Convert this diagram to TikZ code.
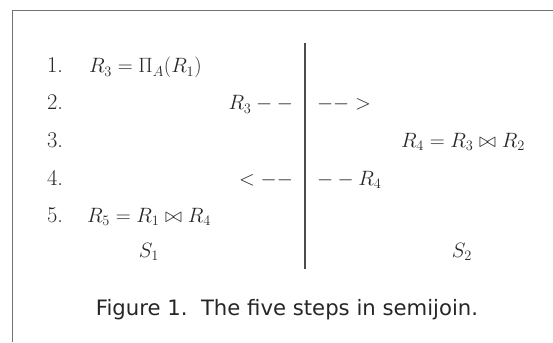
\documentclass[tikz,border=0pt]{standalone}
\usepackage{amsmath,amssymb}
\usepackage{fontspec}
\newfontfamily\capfont{DejaVu Sans}
\begin{document}
\begin{tikzpicture}[x=1pt,y=-1pt,
  every node/.style={inner sep=0pt,outer sep=0pt,text=black!85},
  txt/.style={font=\fontsize{22.5}{26}\selectfont},
  lft/.style={txt,anchor=base west},
  rgt/.style={txt,anchor=base east},
  frame/.style={draw=black!55,line width=1.6pt},
  divider/.style={draw=black!70,line width=1.1pt},
  caption/.style={font=\capfont\fontsize{21.2}{25}\selectfont,anchor=base}]
\useasboundingbox (0,0) rectangle (553,342);
\draw[frame] (12.5,342) -- (12.5,10.5) -- (553,10.5);
% step numbers
\node[lft] (n1) at (47,73) {1.};
\node[lft] (n2) at (47,110) {2.};
\node[lft] (n3) at (47,147) {3.};
\node[lft] (n4) at (47,185) {4.};
\node[lft] (n5) at (47,222) {5.};
% site S1
\node[lft] (s1a) at (89,73) {$R_3=\Pi_A(R_1)$};
\node[rgt] (s1b) at (293,110) {$R_3 --$};
\node[rgt] (s1d) at (293,185) {$<--$};
\node[lft] (s1e) at (87,222) {$R_5=R_1\bowtie R_4$};
\node[txt,anchor=base] (S1) at (149,257) {$S_1$};
% divider
\coordinate (top) at (305,43);
\coordinate (bot) at (305,269);
\draw[divider] (top) -- (bot);
% site S2
\node[lft] (s2b) at (317,110) {$-->$};
\node[lft] (s2c) at (401,147) {$R_4=R_3\bowtie R_2$};
\node[lft] (s2d) at (317,185) {$--R_4$};
\node[txt,anchor=base] (S2) at (462,257) {$S_2$};
% caption
\node[caption] (cap) at (287,315) {Figure 1.\ \ The five steps in semijoin.};
\end{tikzpicture}
\end{document}
